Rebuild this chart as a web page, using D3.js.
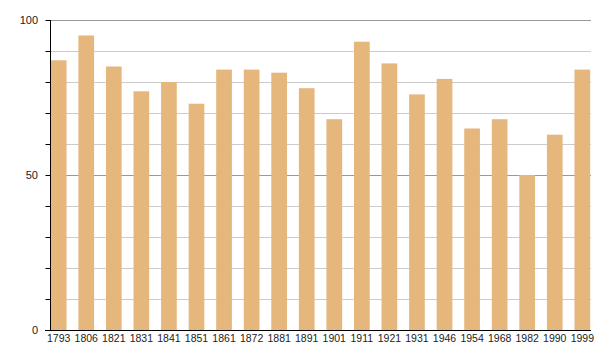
<!DOCTYPE html>
<html><head><meta charset="utf-8">
<script src="https://cdn.jsdelivr.net/npm/d3@7"></script>
<style>body{margin:0;background:#fff}svg{display:block}text{font-family:"Liberation Sans",Arial,sans-serif}</style>
</head><body><svg id="c" width="600" height="360"></svg>
<script>
const categories = ["1793","1806","1821","1831","1841","1851","1861","1872","1881","1891","1901","1911","1921","1931","1946","1954","1968","1982","1990","1999"];
const values = [87,95,85,77,80,73,84,84,83,78,68,93,86,76,81,65,68,50,63,84];
const yTicks = [0,50,100];
const yMinor = [0,10,20,30,40,50,60,70,80,90,100];

const svg = d3.select("#c");
const L = 50, R = 591, T = 20, B = 330;
const x = d3.scaleBand().domain(categories).range([L, R]).paddingInner(0.43).paddingOuter(0.03);
const y = d3.scaleLinear().domain([0,100]).range([B, T]);

// gridlines
svg.append("g").selectAll("line").data(yMinor.filter(d=>d>0)).join("line")
  .attr("x1", L).attr("x2", R).attr("y1", d=>Math.round(y(d))+0.5).attr("y2", d=>Math.round(y(d))+0.5)
  .attr("stroke", d => d%50===0 ? "#999" : "#ccc").attr("stroke-width",1);

// bars
svg.append("g").selectAll("rect").data(values).join("rect")
  .attr("x", (d,i)=>x(categories[i])).attr("width", x.bandwidth())
  .attr("y", d=>y(d)).attr("height", d=>B - y(d)).attr("fill", "#e5b77d");

// y axis
const ya = svg.append("g").attr("transform", `translate(${L+0.5},0)`)
  .call(d3.axisLeft(y).tickValues(yMinor).tickSize(5).tickFormat(d => yTicks.includes(d) ? d : ""));
ya.select(".domain").attr("stroke","#000").attr("d", `M0,${T}V${B}`);
ya.selectAll(".tick line").attr("stroke","#000");
ya.selectAll("text").attr("font-size", 11).attr("fill","#222").attr("x", -12.5).attr("font-family","Liberation Sans, Arial, sans-serif");

// x axis
svg.append("line").attr("x1", L-5).attr("x2", R).attr("y1", B+0.5).attr("y2", B+0.5).attr("stroke","#000");
svg.append("g").selectAll("text").data(categories).join("text")
  .attr("x", d=>x(d)+x.bandwidth()/2).attr("y", 342).attr("text-anchor","middle")
  .attr("font-size", 10.5).attr("fill","#222").text(d=>d);
</script></body></html>
